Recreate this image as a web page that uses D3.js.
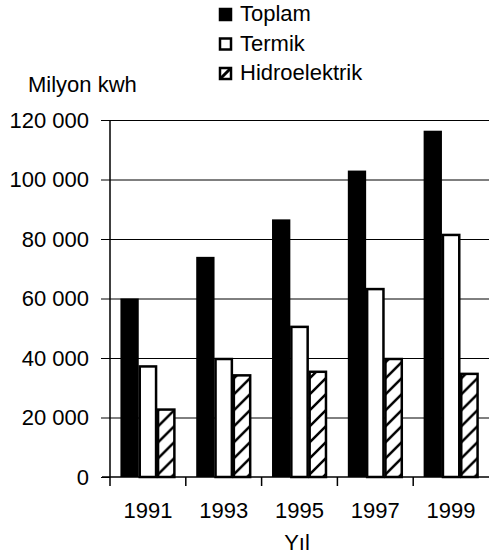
<html>
<head>
<script src="https://d3js.org/d3.v7.min.js"></script>
<style>
  body { margin: 0; background: #fff; }
  svg text { font-family: "Liberation Sans", Arial, sans-serif; font-size: 22px; fill: #000; }
</style>
</head>
<body>
<script>
// data (Milyon kwh)
var years = ["1991", "1993", "1995", "1997", "1999"];
var series = ["Toplam", "Termik", "Hidroelektrik"];
var toplam = [60000, 74000, 86600, 103000, 116400];
var termik = [37500, 40000, 50800, 63500, 81700];
var hidro = [23000, 34500, 35700, 40000, 35000];
var yTicks = [0, 20000, 40000, 60000, 80000, 100000, 120000];

var values = [toplam, termik, hidro];
var rows = years.map(function(y, i) {
  return { year: y, vals: series.map(function(s, j) { return { key: s, v: values[j][i] }; }) };
});

var width = 489, height = 558;
var plotLeft = 110, plotRight = 489, plotTop = 120, plotBottom = 477;

var svg = d3.select("body").append("svg")
  .attr("width", width)
  .attr("height", height);

// hatch for hydro bars
var defs = svg.append("defs");
defs.append("pattern")
  .attr("id", "hatch")
  .attr("patternUnits", "userSpaceOnUse")
  .attr("width", 16).attr("height", 16)
  .call(function(p) {
    p.append("rect").attr("width", 16).attr("height", 16).attr("fill", "#fff");
    p.append("path")
      .attr("d", "M0,16 L16,0 M-4,4 L4,-4 M12,20 L20,12")
      .attr("stroke", "#000").attr("stroke-width", 2.5);
  });

var y = d3.scaleLinear().domain([0, 120000]).range([plotBottom, plotTop]);
var x0 = d3.scaleBand().domain(years).range([plotLeft, plotRight]).paddingInner(0.275).paddingOuter(0.1375);
var x1 = d3.scaleBand().domain(series).range([0, x0.bandwidth()]);
var step = x0.step();

var fmt = function(d) { return d3.format(",")(d).replace(/,/g, " "); };

// gridlines
svg.append("g").selectAll("line")
  .data(yTicks.filter(function(d) { return d > 0; }))
  .enter().append("line")
  .attr("x1", plotLeft).attr("x2", plotRight)
  .attr("y1", function(d) { return y(d) + 0.5; })
  .attr("y2", function(d) { return y(d) + 0.5; })
  .attr("stroke", "#000").attr("stroke-width", 1);

// bars
var group = svg.append("g").selectAll("g")
  .data(rows)
  .enter().append("g")
  .attr("transform", function(d) { return "translate(" + x0(d.year) + ",0)"; });

group.selectAll("rect")
  .data(function(d) { return d.vals; })
  .enter().append("rect")
  .attr("x", function(d) { return x1(d.key) + (d.key == "Toplam" ? 0 : 1); })
  .attr("y", function(d) { return y(d.v) + (d.key == "Toplam" ? 0 : 1); })
  .attr("width", function(d) { return x1.bandwidth() - (d.key == "Toplam" ? 0 : 2); })
  .attr("height", function(d) { return plotBottom - y(d.v) - (d.key == "Toplam" ? 0 : 1); })
  .attr("fill", function(d) { return d.key == "Toplam" ? "#000" : d.key == "Termik" ? "#fff" : "url(#hatch)"; })
  .attr("stroke", function(d) { return d.key == "Toplam" ? "none" : "#000"; })
  .attr("stroke-width", 2.5);

// y axis
var yAxis = svg.append("g")
  .attr("transform", "translate(" + plotLeft + ",0)")
  .call(d3.axisLeft(y).tickValues(yTicks).tickFormat(fmt).tickSize(9).tickPadding(12));
yAxis.select(".domain").attr("stroke", "#000").attr("stroke-width", 1.5)
  .attr("d", "M0," + plotTop + "V" + plotBottom);
yAxis.selectAll("text").style("font-size", "22px").style("font-family", "Liberation Sans, Arial, sans-serif");

// x axis: ticks at band boundaries
var xg = svg.append("g");
xg.append("line")
  .attr("x1", plotLeft - 8).attr("x2", plotRight)
  .attr("y1", plotBottom).attr("y2", plotBottom)
  .attr("stroke", "#000").attr("stroke-width", 1.5);
xg.selectAll(".xt")
  .data(years)
  .enter().append("line")
  .attr("x1", function(d) { return x0(d) - step * 0.1375; })
  .attr("x2", function(d) { return x0(d) - step * 0.1375; })
  .attr("y1", plotBottom).attr("y2", plotBottom + 9)
  .attr("stroke", "#000").attr("stroke-width", 1.5);
xg.selectAll("text")
  .data(years)
  .enter().append("text")
  .attr("x", function(d) { return x0(d) + x0.bandwidth() / 2; })
  .attr("y", plotBottom + 41)
  .attr("text-anchor", "middle")
  .text(function(d) { return d; });

svg.append("text").attr("x", 297).attr("y", 550).attr("text-anchor", "middle").text("Yıl");
svg.append("text").attr("x", 28).attr("y", 92).text("Milyon kwh");

// legend
var leg = svg.append("g").selectAll("g")
  .data(series)
  .enter().append("g")
  .attr("transform", function(d, i) { return "translate(219," + (8 + i * 29.5) + ")"; });
leg.append("rect")
  .attr("x", 1).attr("y", 1).attr("width", 11).attr("height", 11)
  .attr("fill", function(d) { return d == "Toplam" ? "#000" : "#fff"; })
  .attr("stroke", "#000").attr("stroke-width", 2.5);
leg.filter(function(d) { return d == "Hidroelektrik"; })
  .append("path")
  .attr("d", "M1,12 L12,1")
  .attr("stroke", "#000")
  .attr("stroke-width", 3);
leg.append("text")
  .attr("x", 21).attr("y", 13)
  .text(function(d) { return d; });
</script>
</body>
</html>
